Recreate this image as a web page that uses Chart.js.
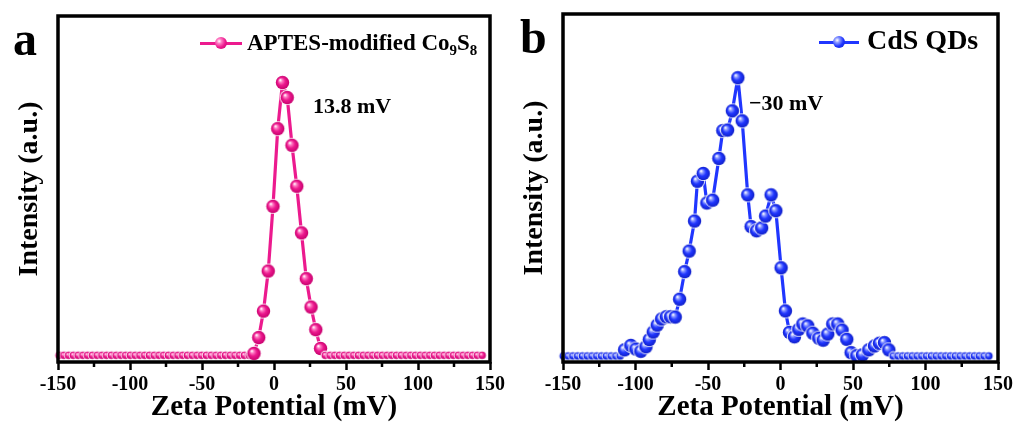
<!DOCTYPE html>
<html>
<head>
<meta charset="utf-8">
<script src="https://cdn.jsdelivr.net/npm/chart.js@4.4.0/dist/chart.umd.min.js"></script>
<style>
  body { margin: 0; background: #fff; }
  #wrap { position: relative; width: 1016px; height: 423px; overflow: hidden;
          font-family: 'Liberation Serif', 'Times New Roman', serif; font-weight: bold; color: #000; }
  .panel { position: absolute; top: 0; }
  .lbl { position: absolute; line-height: 1; white-space: nowrap; }
  .sub { font-size: 0.65em; position: relative; top: 0.32em; }
  .symline { position: absolute; height: 3px; }
  .dot { position: absolute; width: 12px; height: 12px; border-radius: 50%; box-sizing: border-box; }
</style>
</head>
<body>
<div id="wrap">
  <canvas id="chartA" class="panel" width="508" height="423" style="left:0"></canvas>
  <canvas id="chartB" class="panel" width="508" height="423" style="left:508px"></canvas>

  <div class="lbl" style="left:13px;top:15px;font-size:48px">a</div>
  <div class="lbl" style="left:520px;top:13px;font-size:48px">b</div>

  <div class="symline" style="left:200px;top:41.5px;width:42px;background:#ec1a8e"></div>
  <div class="dot" style="left:215px;top:37px;background:radial-gradient(circle at 35% 35%,#fff 0%,#ff7cc4 22%,#ec1a8e 55%,#c8006e 100%)"></div>
  <div class="lbl" style="left:247px;top:31px;font-size:23px">APTES-modified Co<span class="sub">9</span>S<span class="sub">8</span></div>

  <div class="symline" style="left:819px;top:40.5px;width:40px;background:#2036ff"></div>
  <div class="dot" style="left:833px;top:36px;background:radial-gradient(circle at 35% 35%,#fff 0%,#8d9bff 22%,#2036ff 55%,#1020c8 100%)"></div>
  <div class="lbl" style="left:867px;top:26px;font-size:28px">CdS QDs</div>

  <div class="lbl" style="left:313px;top:94.5px;font-size:22px">13.8 mV</div>
  <div class="lbl" style="left:749px;top:91.5px;font-size:22px">&minus;30 mV</div>
</div>

<script>
// x tick labels (major) and minor tick positions, mV
const xTickValues = [-150, -100, -50, 0, 50, 100, 150];
const xMinorTicks = [-125, -75, -25, 25, 75, 125];

// panel a: APTES-modified Co9S8
const zetaA = [
  -149.2, -145.9, -142.6, -139.3, -136.0, -132.7, -129.4, -126.1, -122.8, -119.5,
  -116.2, -112.9, -109.6, -106.3, -103.0, -99.7, -96.4, -93.1, -89.8, -86.5,
  -83.2, -79.9, -76.6, -73.3, -70.0, -66.7, -63.4, -60.1, -56.8, -53.5,
  -50.2, -46.9, -43.6, -40.3, -37.0, -33.7, -30.4, -27.1, -23.8, -20.5,
  -17.2, -13.9, -10.6, -7.3, -4.0, -0.7, 2.6, 5.9, 9.2, 12.5,
  15.8, 19.1, 22.4, 25.7, 29.0, 32.3, 35.6, 38.9, 42.2, 45.5,
  48.8, 52.1, 55.4, 58.7, 62.0, 65.3, 68.6, 71.9, 75.2, 78.5,
  81.8, 85.1, 88.4, 91.7, 95.0, 98.3, 101.6, 104.9, 108.2, 111.5,
  114.8, 118.1, 121.4, 124.7, 128.0, 131.3, 134.6, 137.9, 141.2, 144.5
];
const intensityA = [
  0, 0, 0, 0, 0, 0, 0, 0, 0, 0,
  0, 0, 0, 0, 0, 0, 0, 0, 0, 0,
  0, 0, 0, 0, 0, 0, 0, 0, 0, 0,
  0, 0, 0, 0, 0, 0, 0, 0, 0, 0,
  0, 0.7, 6.5, 16.2, 30.9, 54.6, 83.1, 100, 94.5, 77.0,
  62.0, 44.9, 28.1, 17.7, 9.4, 2.5, 0, 0, 0, 0,
  0, 0, 0, 0, 0, 0, 0, 0, 0, 0,
  0, 0, 0, 0, 0, 0, 0, 0, 0, 0,
  0, 0, 0, 0, 0, 0, 0, 0, 0, 0
];

// panel b: CdS QDs
const zetaB = [
  -149.8, -146.5, -143.2, -139.9, -136.6, -133.3, -130.0, -126.7, -123.4, -120.1,
  -116.8, -113.5, -110.6, -107.5, -103.2, -99.7, -96.3, -92.8, -90.5, -87.8,
  -85.0, -82.0, -78.8, -75.8, -72.6, -69.6, -66.1, -63.0, -59.3, -57.3,
  -53.3, -50.8, -46.8, -42.5, -39.8, -36.5, -33.2, -29.4, -26.4, -22.6,
  -20.3, -16.5, -13.0, -10.3, -6.5, -3.2, 0.4, 3.4, 6.2, 9.6,
  12.6, 15.4, 18.8, 22.3, 26.4, 29.4, 32.6, 36.0, 39.5, 42.5,
  45.7, 48.7, 52.6, 56.5, 60.9, 64.8, 68.2, 71.7, 74.7, 77.7,
  81.0, 84.3, 87.6, 90.9, 94.2, 97.5, 100.8, 104.1, 107.4, 110.7,
  114.0, 117.3, 120.6, 123.9, 127.2, 130.5, 133.8, 137.1, 140.4, 143.7
];
const intensityB = [
  0, 0, 0, 0, 0, 0, 0, 0, 0, 0,
  0, 0, 0, 2.2, 3.8, 2.5, 1.7, 3.3, 5.9, 8.6,
  11.1, 13.3, 14.1, 14.1, 14.0, 20.4, 30.3, 37.7, 48.5, 62.8,
  65.6, 55.0, 56.0, 71.0, 81.0, 81.2, 88.1, 100, 84.5, 57.9,
  46.5, 45.0, 46.0, 50.3, 57.9, 52.2, 31.7, 16.2, 8.5, 6.9,
  9.6, 11.5, 10.8, 8.2, 6.4, 5.7, 7.9, 11.5, 11.5, 9.3,
  6.0, 1.2, 0.1, 0.4, 2.2, 3.6, 4.6, 4.8, 2.2, 0,
  0, 0, 0, 0, 0, 0, 0, 0, 0, 0,
  0, 0, 0, 0, 0, 0, 0, 0, 0, 0
];

const PINK = '#ec1a8e';
const BLUE = '#2036ff';
const FONT = "'Liberation Serif', 'Times New Roman', serif";

// shaded ball marker like the Origin "sphere" symbol
function crearEsfera(claro, color, oscuro, r) {
  const c = document.createElement('canvas');
  const s = Math.ceil(2 * r + 3);
  c.width = c.height = s;
  const g = c.getContext('2d');
  const m = s / 2;
  g.beginPath();
  g.arc(m, m, r + 0.9, 0, Math.PI * 2);
  g.fillStyle = '#fff';
  g.fill();
  const grad = g.createRadialGradient(m - r * 0.35, m - r * 0.38, r * 0.05, m, m, r);
  grad.addColorStop(0, '#ffffff');
  grad.addColorStop(0.22, claro);
  grad.addColorStop(0.55, color);
  grad.addColorStop(1, oscuro);
  g.beginPath();
  g.arc(m, m, r, 0, Math.PI * 2);
  g.fillStyle = grad;
  g.fill();
  return c;
}

const marcoPlugin = {
  id: 'marco',
  afterDraw(chart) {
    const { ctx, chartArea: a, scales: { x } } = chart;
    ctx.save();
    ctx.strokeStyle = '#000';
    ctx.lineWidth = 2.5;
    xMinorTicks.forEach(v => {
      const px = x.getPixelForValue(v);
      ctx.beginPath();
      ctx.moveTo(px, a.bottom);
      ctx.lineTo(px, a.bottom + 5);
      ctx.stroke();
    });
    ctx.lineWidth = 3.5;
    ctx.strokeRect(a.left, a.top, a.right - a.left, a.bottom - a.top);
    ctx.restore();
  }
};

function crearGrafica(id, xs, ys, tonos, lay) {
  const grande = crearEsfera(tonos[0], tonos[1], tonos[2], 6.7);
  const chica = crearEsfera(tonos[0], tonos[1], tonos[2], 3.8);
  return new Chart(document.getElementById(id), {
    type: 'line',
    data: {
      datasets: [{
        data: xs.map((v, i) => ({ x: v, y: ys[i] })),
        borderColor: tonos[1],
        borderWidth: 3.2,
        borderJoinStyle: 'round',
        pointStyle: c => (c.raw && c.raw.y === 0 ? chica : grande),
        pointRadius: 6,
        tension: 0,
        clip: false
      }]
    },
    options: {
      responsive: false,
      animation: false,
      layout: { padding: { left: 0, top: lay.top, right: lay.right, bottom: 0 } },
      plugins: { legend: { display: false }, tooltip: { enabled: false } },
      scales: {
        x: {
          type: 'linear',
          min: -150,
          max: 150,
          afterBuildTicks: s => { s.ticks = xTickValues.map(v => ({ value: v })); },
          afterFit: s => { s.height = 61; },
          border: { display: false },
          grid: { drawOnChartArea: false, drawTicks: true, tickLength: 8, tickWidth: 2.5, tickColor: '#000' },
          ticks: { color: '#000', padding: 3, maxRotation: 0, font: { family: FONT, weight: 'bold', size: 20, lineHeight: 1.2 } },
          title: { display: true, text: 'Zeta Potential (mV)', color: '#000', padding: { top: 0, bottom: 1 },
                   font: { family: FONT, weight: 'bold', size: 29, lineHeight: 1 } }
        },
        y: {
          min: lay.ymin,
          max: lay.ymax,
          afterFit: s => { s.width = lay.left; },
          border: { display: false },
          grid: { display: false },
          ticks: { display: false },
          title: { display: true, text: 'Intensity (a.u.)', color: '#000', padding: { top: lay.titlePad, bottom: 0 },
                   font: { family: FONT, weight: 'bold', size: 28, lineHeight: 1 } }
        }
      }
    },
    plugins: [marcoPlugin]
  });
}

crearGrafica('chartA', zetaA, intensityA, ['#ff7cc4', PINK, '#c8006e'],
  { top: 16, right: 15, left: 58, ymin: -2.46, ymax: 124.4, titlePad: 16 });
crearGrafica('chartB', zetaB, intensityB, ['#8d9bff', BLUE, '#1020c8'],
  { top: 14, right: 17, left: 55, ymin: -2.16, ymax: 122.9, titlePad: 13 });
</script>
</body>
</html>
